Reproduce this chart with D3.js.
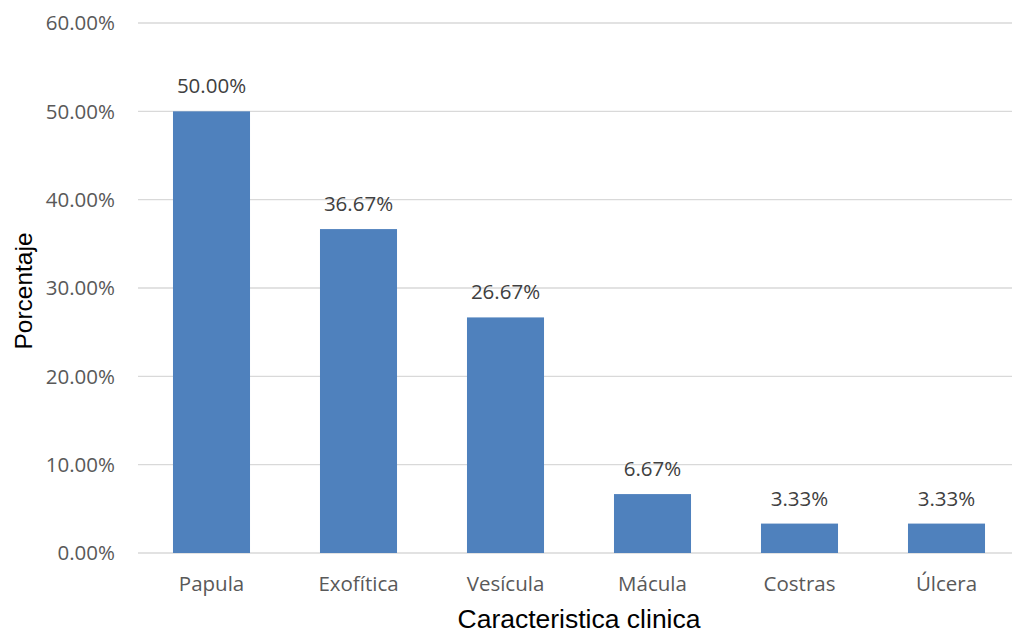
<!DOCTYPE html>
<html>
<head>
<meta charset="utf-8">
<script src="https://cdn.jsdelivr.net/npm/d3@7"></script>
<style>
  html, body { margin: 0; padding: 0; background: #fff; }
  svg { display: block; }
</style>
</head>
<body>
<svg id="chart" width="1012" height="634"></svg>
<script>
const categories = ["Papula", "Exofítica", "Vesícula", "Mácula", "Costras", "Úlcera"];
const values = [50.00, 36.67, 26.67, 6.67, 3.33, 3.33];
const yTicks = [0, 10, 20, 30, 40, 50, 60];
const xTitle = "Caracteristica clinica";
const yTitle = "Porcentaje";

(function () {
const svg = d3.select("#chart");
const mLeft = 138, mRight = 1020, mTop = 23, mBottom = 553;
const tickFont = "'Open Sans', 'Noto Sans', sans-serif";
const titleFont = "'Liberation Sans', Arial, sans-serif";
const fs = 20.5;

const x = d3.scaleBand().domain(categories).range([mLeft, mRight]).paddingInner(0.476).paddingOuter(0.238);
const y = d3.scaleLinear().domain([0, 60]).range([mBottom, mTop]);

// gridlines
svg.append("g").selectAll("line").data(yTicks).join("line")
  .attr("x1", mLeft).attr("x2", 1012)
  .attr("y1", d => y(d)).attr("y2", d => y(d))
  .attr("stroke", "#d9d9d9").attr("stroke-width", 1.3);

// y tick labels
svg.append("g").selectAll("text").data(yTicks).join("text")
  .attr("x", 115).attr("y", d => y(d)).attr("dy", "0.35em")
  .attr("text-anchor", "end")
  .attr("font-family", tickFont).attr("font-size", fs).attr("fill", "#595959")
  .text(d => d.toFixed(2) + "%");

// bars
svg.append("g").selectAll("rect").data(values).join("rect")
  .attr("x", (d, i) => x(categories[i]))
  .attr("width", x.bandwidth())
  .attr("y", d => y(d))
  .attr("height", d => mBottom - y(d))
  .attr("fill", "#4f81bd");

// value labels
svg.append("g").selectAll("text").data(values).join("text")
  .attr("x", (d, i) => x(categories[i]) + x.bandwidth() / 2)
  .attr("y", d => y(d) - 18)
  .attr("text-anchor", "middle")
  .attr("font-family", tickFont).attr("font-size", fs).attr("fill", "#404040")
  .text(d => d.toFixed(2) + "%");

// category labels
svg.append("g").selectAll("text").data(categories).join("text")
  .attr("x", d => x(d) + x.bandwidth() / 2)
  .attr("y", 591)
  .attr("text-anchor", "middle")
  .attr("font-family", tickFont).attr("font-size", fs).attr("fill", "#595959")
  .text(d => d);

// axis titles
svg.append("text")
  .attr("x", 579).attr("y", 628)
  .attr("text-anchor", "middle")
  .attr("font-family", titleFont).attr("font-size", 26.5).attr("fill", "#000")
  .text(xTitle);

svg.append("text")
  .attr("transform", "translate(32,291) rotate(-90)")
  .attr("text-anchor", "middle")
  .attr("font-family", titleFont).attr("font-size", 24.5).attr("fill", "#000")
  .text(yTitle);
})();
</script>
</body>
</html>
